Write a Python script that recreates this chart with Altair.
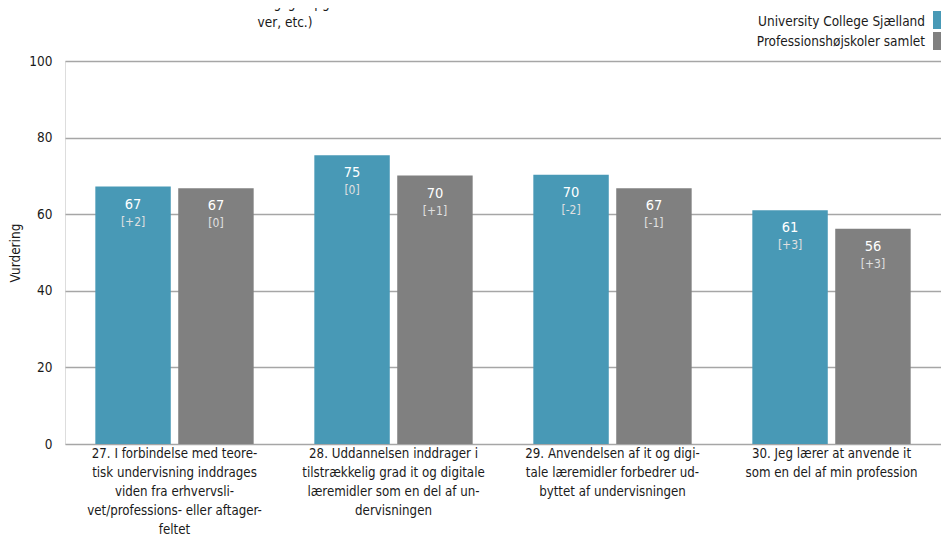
import altair as alt
import pandas as pd

categories = [
    "27. I forbindelse med teore-|tisk undervisning inddrages|viden fra erhvervsli-|vet/professions- eller aftager-|feltet",
    "28. Uddannelsen inddrager i|tilstrækkelig grad it og digitale|læremidler som en del af un-|dervisningen",
    "29. Anvendelsen af it og digi-|tale læremidler forbedrer ud-|byttet af undervisningen",
    "30. Jeg lærer at anvende it|som en del af min profession",
]
series = ["University College Sjælland", "Professionshøjskoler samlet"]
ucs_values = [67.2, 75.4, 70.3, 61.0]
ph_values = [66.8, 70.1, 66.8, 56.2]
ucs_labels = ["67", "75", "70", "61"]
ph_labels = ["67", "70", "67", "56"]
ucs_changes = ["[+2]", "[0]", "[-2]", "[+3]"]
ph_changes = ["[0]", "[+1]", "[-1]", "[+3]"]
colors = ["#4899b6", "#808080"]
title_lines = ["tværfaglige opga", "ver, etc.)"]

FONT = "DejaVu Sans Condensed, Liberation Sans, sans-serif"

rows = []
for s, vals, labs, chs in [
    (series[0], ucs_values, ucs_labels, ucs_changes),
    (series[1], ph_values, ph_labels, ph_changes),
]:
    for c, v, l, ch in zip(categories, vals, labs, chs):
        rows.append({"category": c, "series": s, "value": v, "label": l, "change": ch})
df = pd.DataFrame(rows)

base = alt.Chart(df).encode(
    x=alt.X(
        "category:N",
        sort=categories,
        scale=alt.Scale(paddingInner=0.277, paddingOuter=0.1385),
        axis=alt.Axis(
            title=None,
            labelAngle=0,
            labelExpr="split(datum.label, '|')",
            labelLineHeight=19,
            labelFontSize=13.2,
            labelColor="#1a1a1a",
            labelPadding=3,
            labelLimit=400,
            labelBaseline="top",
            domain=False,
            ticks=False,
        ),
    ),
    xOffset=alt.XOffset("series:N", sort=series, scale=alt.Scale(paddingInner=0.09)),
    y=alt.Y(
        "value:Q",
        scale=alt.Scale(domain=[0, 100]),
        axis=alt.Axis(
            title="Vurdering",
            values=[0, 20, 40, 60, 80, 100],
            grid=True,
            gridColor="#a6a6a6",
            gridWidth=1.5,
            domain=False,
            ticks=False,
            labelPadding=13,
            labelFontSize=13.5,
            labelColor="#1a1a1a",
            titleFontSize=13.5,
            titleFontWeight="normal",
            titleColor="#1a1a1a",
            titlePadding=6,
        ),
    ),
)

bars = base.mark_bar().encode(
    color=alt.Color("series:N", scale=alt.Scale(domain=series, range=colors), legend=None)
)
value_text = base.mark_text(
    dy=18, fontSize=14.5, fontWeight="normal", color="white", baseline="middle", font=FONT
).encode(text="label:N")
change_text = base.mark_text(
    dy=35, fontSize=12, fontWeight="normal", color="#e0e0e0", baseline="middle", font=FONT
).encode(text="change:N")

title_text = alt.Chart(pd.DataFrame({"a": [0]})).mark_text(
    text=title_lines, fontSize=13.5, lineHeight=19, align="center", baseline="bottom",
    color="#1a1a1a", font=FONT
).encode(x=alt.value(220), y=alt.value(-50))

legend_layers = []
for i, name in enumerate(series):
    ldf = pd.DataFrame({"series": [name]})
    legend_layers.append(
        alt.Chart(ldf).mark_text(align="right", baseline="middle", fontSize=13.5, color="#1a1a1a", font=FONT)
        .encode(text="series:N", x=alt.value(860), y=alt.value(-39 + 20 * i))
    )
    legend_layers.append(
        alt.Chart(ldf).mark_rect(color=colors[i])
        .encode(x=alt.value(868), x2=alt.value(884), y=alt.value(-50 + 21 * i), y2=alt.value(-32 + 21 * i))
    )

chart = alt.layer(bars, value_text, change_text, title_text, *legend_layers).properties(
    width=876,
    height=383,
    autosize=alt.AutoSizeParams(type="none"),
    padding={"left": 57, "top": 53, "right": 0, "bottom": 94},
).configure_view(stroke=None).configure(font=FONT)

chart.save("out.html", embed_options={"renderer": "svg", "actions": False})
